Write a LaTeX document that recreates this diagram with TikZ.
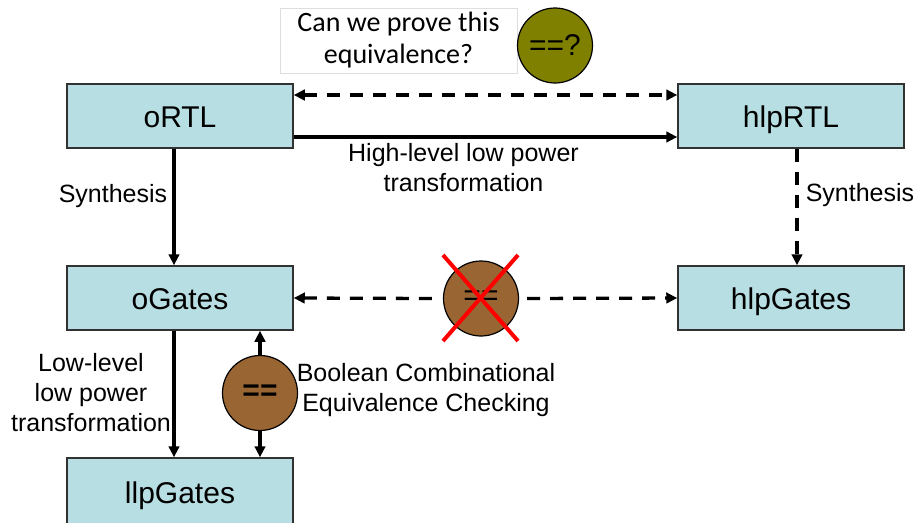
\documentclass[tikz,border=0pt]{standalone}
\usepackage{fontspec}
\setmainfont{Liberation Sans}
\newfontfamily\calibri{Carlito}
\usetikzlibrary{arrows.meta,calc}
\definecolor{boxfill}{RGB}{183,222,226}
\definecolor{boxline}{RGB}{50,50,50}
\definecolor{eqbrown}{RGB}{153,102,51}
\definecolor{eqolive}{RGB}{128,128,0}
\definecolor{notered}{RGB}{255,0,0}
\definecolor{noteframe}{RGB}{222,222,222}
\begin{document}
\begin{tikzpicture}[x=1pt,y=-1pt,
  stage/.style={draw=boxline, line width=1.5pt, fill=boxfill,
    minimum width=226pt, minimum height=64pt, inner sep=0pt,
    text height=22pt, text depth=0pt,
    font=\fontsize{30}{36}\selectfont},
  eqcirc/.style={circle, draw=black, line width=1.2pt, minimum size=75pt,
    inner sep=0pt, font=\fontsize{30}{36}\selectfont},
  flow/.style={line width=3.3pt, arrows={-Triangle[length=11pt,width=10.5pt]}},
  both/.style={arrows={Triangle[length=11pt,width=10.5pt]-Triangle[length=11pt,width=10.5pt]}},
  dflow/.style={flow, dash pattern=on 13pt off 10pt},
  lbl/.style={font=\fontsize{25}{30}\selectfont, inner sep=0pt, align=center},
]
\useasboundingbox (0,0) rectangle (917,522);
\fill[white] (0,0) rectangle (917,522);

% design stages
\node[stage] (oRTL) at (180,116) {oRTL};
\node[stage] (hRTL) at (791,116) {hlpRTL};
\node[stage] (oG) at (180,298) {oGates};
\node[stage] (hG) at (791,298) {hlpGates};
\node[stage, minimum height=68pt] (lG) at (180,492) {llpGates};

% question note and equivalence markers
\node[draw=noteframe, line width=0.8pt, fill=white, minimum width=237pt,
  minimum height=65pt, inner sep=0pt, align=center,
  font=\calibri\fontsize{28}{32}\selectfont] (note) at (398.5,40.5)
  {Can we prove this\\equivalence?};
\node[eqcirc, fill=eqolive] (q) at (555,45.5) {==?};
\node[eqcirc, fill=eqbrown] (neq) at (481,298.5) {==};
\node[eqcirc, fill=eqbrown] (eq) at (260,393) {\textbf{==}};

% flows between stages
\draw[dflow, both] ([yshift=21pt]oRTL.east) -- ([yshift=21pt]hRTL.west);
\draw[flow] ([yshift=-21pt]oRTL.east) -- ([yshift=-21pt]hRTL.west);
\draw[flow] ([xshift=-6pt]oRTL.south) -- ([xshift=-6pt]oG.north);
\draw[dflow] ([xshift=6pt]hRTL.south) -- ([xshift=6pt]hG.north);
\draw[dflow] ([xshift=-11pt]neq.west) -- (oG.east);
\draw[dflow] ([xshift=8pt]neq.east) -- (hG.west);
\draw[flow] ([xshift=-6pt]oG.south) -- ([xshift=-6pt]lG.north);
\draw[flow] (eq.north) -- (eq |- oG.south);
\draw[flow] (eq.south) -- (eq |- lG.north);

% cross over the unprovable equivalence
\draw[notered, line width=4pt] ($(neq)+(-38,-43.5)$) -- ($(neq)+(37,42.5)$);
\draw[notered, line width=4pt] ($(neq)+(37,-43.5)$) -- ($(neq)+(-38,42.5)$);

% labels
\node[lbl, anchor=base] (synL) at (113,202.7) {Synthesis};
\node[lbl, anchor=base] (synR) at (860,201) {Synthesis};
\node[lbl, anchor=north] (hlt) at (463.5,143.5) {High-level low power\\transformation};
\node[lbl, anchor=north] (llt) at (91,353.5) {Low-level\\low power\\transformation};
\node[lbl, anchor=north] (bcec) at (426,363.5) {Boolean Combinational\\Equivalence Checking};
\end{tikzpicture}
\end{document}
